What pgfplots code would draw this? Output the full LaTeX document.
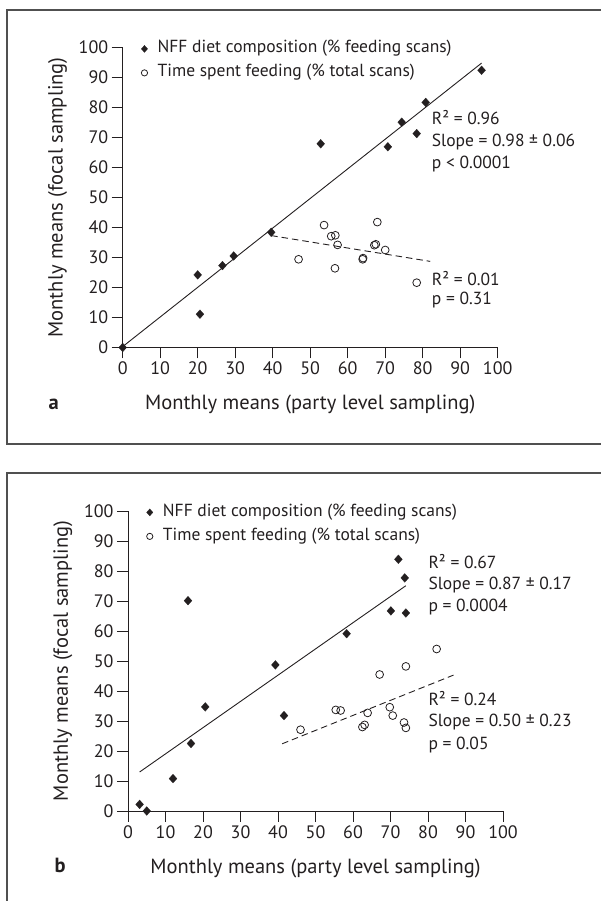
\documentclass[border=0pt]{standalone}
\usepackage{fontspec}
\setmainfont{PT Sans}
\usepackage{pgfplots}
\pgfplotsset{compat=1.18}

\definecolor{ink}{RGB}{35,31,32}
\definecolor{framegray}{RGB}{80,80,80}

\newcommand{\txt}{\fontsize{17.5}{21}\selectfont}
\newcommand{\lab}{\fontsize{20.5}{24}\selectfont}

\tikzset{stat/.style={anchor=base west, font=\txt}}

\pgfplotsset{
  panel/.style={
    scale only axis, width=375pt, height=300pt,
    anchor=south west,
    xmin=0, xmax=100, ymin=0, ymax=100,
    axis x line*=bottom, axis y line*=left,
    axis line style={ink, line width=0.9pt, -},
    xtick={0,10,...,100}, ytick={0,10,...,100},
    tick align=outside, major tick length=11pt,
    tick style={ink, line width=0.9pt},
    tick label style={font=\fontsize{18}{21}\selectfont},
    /pgf/number format/assume math mode=true,
    clip=false,
    every axis x label/.style={at={(axis description cs:0.5,-0.207)}, anchor=base, font=\lab},
    every axis y label/.style={at={(axis description cs:-0.16,0.5)}, rotate=90, anchor=base, font=\lab},
    legend cell align=left,
    legend style={draw=none, fill=none, at={(0.0496,1.022)}, anchor=north west,
      inner sep=0pt, outer sep=0pt, row sep=8pt, font=\txt,
      nodes={inner sep=0pt, text height=12pt, text depth=4pt},
      /tikz/every odd column/.append style={column sep=10pt}},
    legend image code/.code={\draw[#1, every mark/.append style={scale=0.8}] plot coordinates {(0pt,0pt)};},
    xlabel={Monthly means (party level sampling)},
    ylabel={Monthly means (focal sampling)},
  },
  nff/.style={only marks, mark=diamond*, mark size=4.4pt,
    mark options={fill=ink, draw=ink, xscale=1.2, line width=0.2pt}},
  feed/.style={only marks, mark=o, mark size=3.9pt,
    mark options={draw=ink, line width=0.8pt}},
  fit/.style={ink, line width=0.9pt, no marks},
  fitdash/.style={ink, line width=0.9pt, no marks, dash pattern=on 6.5pt off 4pt},
}

\begin{document}
\color{ink}
\begin{tikzpicture}
\path[use as bounding box] (0pt,0pt) rectangle (601pt,901pt);
\draw[framegray, line width=1.3pt] (601pt,457pt) -- (7pt,457pt) -- (7pt,891pt) -- (601pt,891pt);
\draw[framegray, line width=1.3pt] (601pt,428pt) -- (7pt,428pt) -- (7pt,0pt);

% panel a
\begin{axis}[panel, at={(122.7pt,553.5pt)}]
\addplot[nff] coordinates {
  (0,0) (20.0,24.2) (20.6,11.1) (26.6,27.3) (29.6,30.5) (39.6,38.4)
  (52.8,67.9) (70.7,66.9) (74.4,75.1) (78.4,71.3) (80.8,81.7) (95.7,92.4)};
\addplot[feed] coordinates {
  (46.9,29.4) (53.7,40.8) (55.6,37.1) (56.7,37.4) (57.3,34.2) (56.6,26.4)
  (64.0,29.4) (64.1,29.8) (67.1,34.1) (67.5,34.4) (67.9,41.8) (70.0,32.5) (78.4,21.6)};
\addplot[fit] coordinates {(0,0.3) (95.7,94.8)};
\addplot[fitdash] coordinates {(39.6,37.3) (82.0,28.7)};
\legend{NFF diet composition (\% feeding scans), Time spent feeding (\% total scans)}
\node[stat] at (axis cs:81.5,74.2) {R² = 0.96};
\node[stat] at (axis cs:81.5,67.0) {Slope = 0.98 ± 0.06};
\node[stat] at (axis cs:81.5,59.7) {p < 0.0001};
\node[stat] at (axis cs:81.5,20.8) {R² = 0.01};
\node[stat] at (axis cs:81.5,14.2) {p = 0.31};
\node[anchor=base west, font=\lab\bfseries] at (axis description cs:-0.207,-0.207) {a};
\end{axis}

% panel b
\begin{axis}[panel, at={(128pt,90pt)}]
\addplot[nff] coordinates {
  (3.1,2.2) (5.0,0) (12.0,10.8) (16.0,70.1) (16.8,22.5) (20.6,34.7)
  (39.3,48.7) (41.6,31.8) (58.3,59.1) (70.1,66.7) (72.1,83.9) (73.8,77.7) (74.1,66.0)};
\addplot[feed] coordinates {
  (46.0,27.1) (55.4,33.7) (56.7,33.5) (62.5,28.0) (63.1,28.7) (63.9,32.7)
  (67.1,45.5) (69.8,34.6) (70.6,31.8) (73.6,29.5) (74.1,27.7) (74.1,48.2) (82.3,54.0)};
\addplot[fit] coordinates {(3.1,13.0) (74.1,75.1)};
\addplot[fitdash] coordinates {(41.1,22.4) (86.8,45.3)};
\legend{NFF diet composition (\% feeding scans), Time spent feeding (\% total scans)}
\node[stat] at (axis cs:79.2,80.9) {R² = 0.67};
\node[stat] at (axis cs:79.2,73.8) {Slope = 0.87 ± 0.17};
\node[stat] at (axis cs:79.2,66.5) {p = 0.0004};
\node[stat] at (axis cs:79.2,35.1) {R² = 0.24};
\node[stat] at (axis cs:79.2,28.1) {Slope = 0.50 ± 0.23};
\node[stat] at (axis cs:79.2,20.6) {p = 0.05};
\node[anchor=base west, font=\lab\bfseries] at (axis description cs:-0.205,-0.206) {b};
\end{axis}
\end{tikzpicture}
\end{document}
